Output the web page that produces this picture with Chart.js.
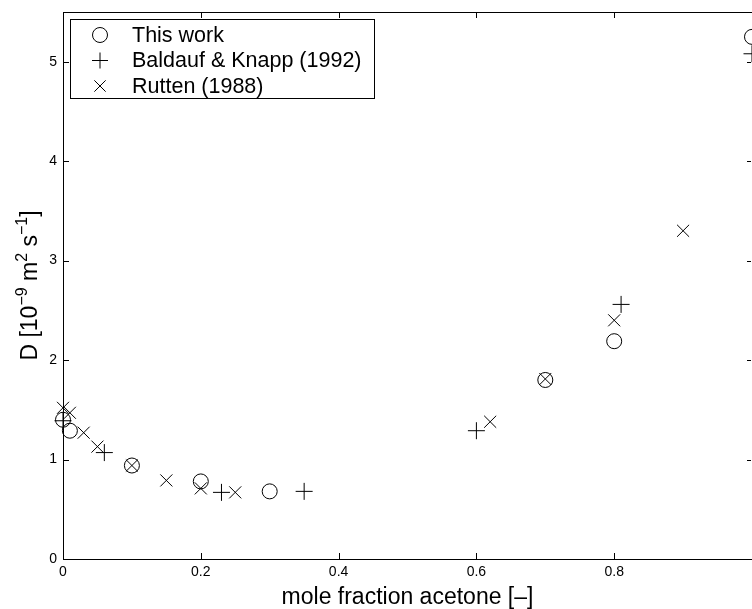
<!DOCTYPE html>
<html>
<head>
<meta charset="utf-8">
<script src="https://cdn.jsdelivr.net/npm/chart.js@4/dist/chart.umd.min.js"></script>
<style>html,body{margin:0;padding:0;background:#fff}</style>
</head>
<body>
<canvas id="diffChart" width="752" height="609"></canvas>
<script>
// mole fraction acetone vs D [1e-9 m2/s]
const thisWorkX = [0, 0.01, 0.1, 0.2, 0.3, 0.7, 0.8, 1.0];
const thisWorkY = [1.40, 1.29, 0.94, 0.78, 0.68, 1.80, 2.19, 5.25];
const baldaufX = [0, 0.06, 0.23, 0.35, 0.6, 0.81, 1.0];
const baldaufY = [1.39, 1.07, 0.67, 0.68, 1.29, 2.56, 5.08];
const ruttenX = [0, 0.01, 0.03, 0.05, 0.1, 0.15, 0.2, 0.25, 0.62, 0.7, 0.8, 0.9];
const ruttenY = [1.52, 1.47, 1.27, 1.13, 0.94, 0.79, 0.71, 0.67, 1.38, 1.81, 2.40, 3.30];
const xTicks = [0, 0.2, 0.4, 0.6, 0.8, 1];
const yTicks = [0, 1, 2, 3, 4, 5];

const FONT = "'Liberation Sans', Arial, Helvetica, sans-serif";
const pts = (xs, ys) => xs.map((x, i) => ({ x: x, y: ys[i] }));

function drawMarker(ctx, style, x, y, r) {
    ctx.beginPath();
    if (style === 'circle') {
        ctx.arc(x, y, r, 0, Math.PI * 2);
    } else if (style === 'cross') {
        ctx.moveTo(x - r, y); ctx.lineTo(x + r, y);
        ctx.moveTo(x, y - r); ctx.lineTo(x, y + r);
    } else {
        const d = r * Math.SQRT1_2;
        ctx.moveTo(x - d, y - d); ctx.lineTo(x + d, y + d);
        ctx.moveTo(x - d, y + d); ctx.lineTo(x + d, y - d);
    }
    ctx.stroke();
}

// matlab-style box with inward ticks, own legend and y title
const frame = {
    id: 'frame',
    beforeDatasetsDraw(chart) {
        const { ctx, chartArea: a, scales } = chart;
        const right = Math.min(a.right, chart.width - 1);
        ctx.save();
        ctx.strokeStyle = '#000';
        ctx.lineWidth = 1;
        ctx.strokeRect(a.left + 0.5, a.top + 0.5, a.right - a.left, a.bottom - a.top);
        ctx.beginPath();
        xTicks.forEach(v => {
            const px = Math.round(scales.x.getPixelForValue(v)) + 0.5;
            ctx.moveTo(px, a.bottom); ctx.lineTo(px, a.bottom - 6);
            ctx.moveTo(px, a.top); ctx.lineTo(px, a.top + 6);
        });
        yTicks.forEach(v => {
            const py = Math.round(scales.y.getPixelForValue(v)) + 0.5;
            ctx.moveTo(a.left, py); ctx.lineTo(a.left + 6, py);
            ctx.moveTo(right, py); ctx.lineTo(right - 4, py);
        });
        ctx.stroke();
        ctx.restore();
    },
    afterDraw(chart) {
        const { ctx } = chart;
        ctx.save();
        // legend
        ctx.fillStyle = '#fff';
        ctx.fillRect(70, 19, 304, 79);
        ctx.strokeStyle = '#000';
        ctx.lineWidth = 1;
        ctx.strokeRect(70.5, 19.5, 304, 79);
        ctx.font = '21.5px ' + FONT;
        ctx.textBaseline = 'middle';
        ctx.fillStyle = '#000';
        chart.data.datasets.forEach((ds, i) => {
            const y = 35 + i * 25.5;
            drawMarker(ctx, ds.pointStyle, 100, y, i === 0 ? 7.5 : 8);
            ctx.fillText(ds.label, 132, y + 1);
        });
        // y axis title with superscripts
        const parts = [
            ['D [10', false], ['\u22129', true], [' m', false], ['2', true],
            [' s', false], ['\u22121', true], [']', false]
        ];
        const big = '23px ' + FONT, small = '16px ' + FONT;
        let total = 0;
        parts.forEach(p => { ctx.font = p[1] ? small : big; total += ctx.measureText(p[0]).width; });
        ctx.translate(37, (chart.chartArea.top + chart.chartArea.bottom) / 2);
        ctx.rotate(-Math.PI / 2);
        ctx.textBaseline = 'alphabetic';
        let x = -total / 2;
        parts.forEach(p => {
            ctx.font = p[1] ? small : big;
            ctx.fillText(p[0], x, p[1] ? -10 : 0);
            x += ctx.measureText(p[0]).width;
        });
        ctx.restore();
    }
};

new Chart(document.getElementById('diffChart'), {
    type: 'scatter',
    data: {
        datasets: [
            {
                label: 'This work',
                data: pts(thisWorkX, thisWorkY),
                pointStyle: 'circle',
                pointRadius: 7.5,
                pointHoverRadius: 7.5,
                borderColor: '#000',
                backgroundColor: 'rgba(0,0,0,0)',
                borderWidth: 1,
                clip: false
            },
            {
                label: 'Baldauf & Knapp (1992)',
                data: pts(baldaufX, baldaufY),
                pointStyle: 'cross',
                pointRadius: 8.5,
                pointHoverRadius: 8.5,
                borderColor: '#000',
                borderWidth: 1,
                clip: false
            },
            {
                label: 'Rutten (1988)',
                data: pts(ruttenX, ruttenY),
                pointStyle: 'crossRot',
                pointRadius: 8.5,
                pointHoverRadius: 8.5,
                borderColor: '#000',
                borderWidth: 1,
                clip: false
            }
        ]
    },
    options: {
        responsive: false,
        animation: false,
        devicePixelRatio: 1,
        layout: { autoPadding: false, padding: { top: 12, right: -2, left: 0, bottom: 0 } },
        plugins: {
            legend: { display: false },
            tooltip: { enabled: false }
        },
        scales: {
            x: {
                type: 'linear',
                min: 0,
                max: 1,
                grid: { display: false, drawTicks: false },
                border: { display: false },
                afterBuildTicks: s => { s.ticks = xTicks.map(v => ({ value: v })); },
                afterFit: s => { s.height = 50; s.paddingLeft = 0; s.paddingRight = 0; },
                ticks: {
                    padding: 5,
                    maxRotation: 0,
                    color: '#000',
                    font: { family: FONT, size: 14 },
                    callback: v => (v === 1 ? '' : String(v))
                },
                title: {
                    display: true,
                    text: 'mole fraction acetone [\u2013]',
                    color: '#000',
                    font: { family: FONT, size: 23, lineHeight: 1 },
                    padding: { top: 0, bottom: 0 }
                }
            },
            y: {
                type: 'linear',
                min: 0,
                max: 5.5,
                grid: { display: false, drawTicks: false },
                border: { display: false },
                afterBuildTicks: s => { s.ticks = yTicks.map(v => ({ value: v })); },
                afterFit: s => { s.width = 63; s.paddingTop = 0; s.paddingBottom = 0; },
                ticks: {
                    padding: 6,
                    color: '#000',
                    font: { family: FONT, size: 14 }
                }
            }
        }
    },
    plugins: [frame]
});
</script>
</body>
</html>
